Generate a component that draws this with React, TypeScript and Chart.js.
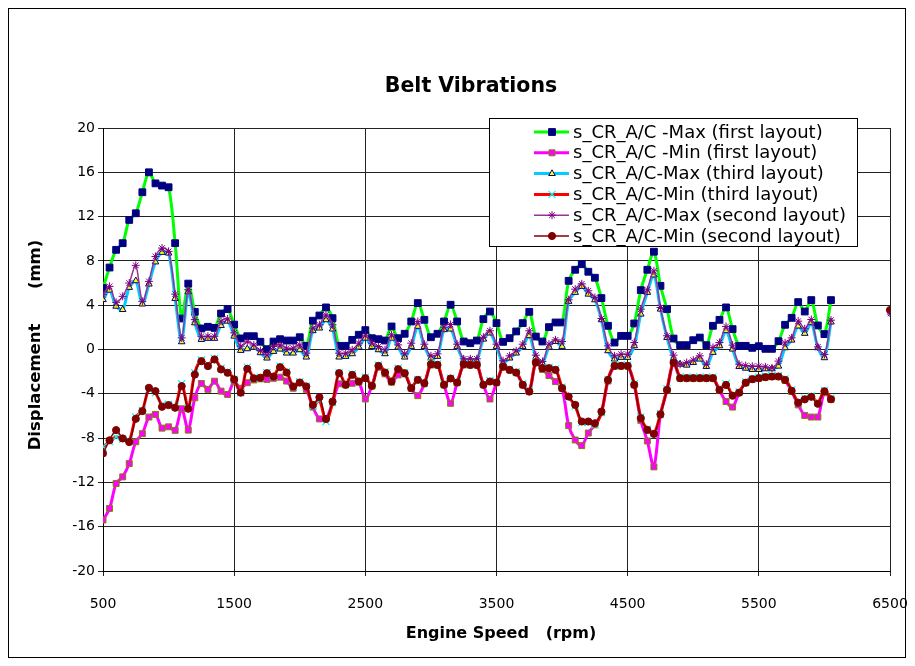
import React, { useEffect, useRef } from "react";
import { Chart, registerables } from "chart.js";

Chart.register(...registerables);

const rpm = [
  500, 550, 600, 650, 700, 750, 800, 850, 900, 950, 1000, 1050, 1100, 1150, 1200, 1250, 1300, 1350, 1400, 1450,
  1500, 1550, 1600, 1650, 1700, 1750, 1800, 1850, 1900, 1950, 2000, 2050, 2100, 2150, 2200, 2250, 2300, 2350, 2400, 2450,
  2500, 2550, 2600, 2650, 2700, 2750, 2800, 2850, 2900, 2950, 3000, 3050, 3100, 3150, 3200, 3250, 3300, 3350, 3400, 3450,
  3500, 3550, 3600, 3650, 3700, 3750, 3800, 3850, 3900, 3950, 4000, 4050, 4100, 4150, 4200, 4250, 4300, 4350, 4400, 4450,
  4500, 4550, 4600, 4650, 4700, 4750, 4800, 4850, 4900, 4950, 5000, 5050, 5100, 5150, 5200, 5250, 5300, 5350, 5400, 5450,
  5500, 5550, 5600, 5650, 5700, 5750, 5800, 5850, 5900, 5950, 6000, 6050,
];

const xTickValues = [500, 1500, 2500, 3500, 4500, 5500, 6500];
const yTickValues = [-20, -16, -12, -8, -4, 0, 4, 8, 12, 16, 20];

const seriesNames = [
  "s_CR_A/C -Max (first layout)",
  "s_CR_A/C -Min (first layout)",
  "s_CR_A/C-Max (third layout)",
  "s_CR_A/C-Min (third layout)",
  "s_CR_A/C-Max (second layout)",
  "s_CR_A/C-Min (second layout)",
];

const firstMax = [
  5.55, 7.4, 9.0, 9.6, 11.7, 12.3, 14.2, 16.0, 15.0, 14.8, 14.65, 9.6, 2.8, 5.95, 3.4, 1.9, 2.05, 1.95, 3.25, 3.65, 2.25, 1.0, 1.2, 1.2, 0.7,
  0.03, 0.72, 0.93, 0.81, 0.81, 1.11, 0.33, 2.6, 3.07, 3.8, 2.83, 0.33, 0.33, 0.87, 1.33, 1.75, 1.02, 0.93, 0.81, 2.08, 1.02, 1.42, 2.53, 4.19, 2.68,
  1.11, 1.42, 2.53, 4.04, 2.53, 0.72, 0.57, 0.81, 2.74, 3.43, 2.38, 0.69, 1.02, 1.63, 2.38, 3.4, 1.17, 0.72, 2.02, 2.44, 2.44, 6.2, 7.2, 7.7,
  7.02, 6.48, 4.64, 2.14, 0.63, 1.23, 1.23, 2.35, 5.36, 7.2, 8.83, 5.75, 3.64, 0.99, 0.39, 0.39, 0.84, 1.08, 0.39, 2.14, 2.68, 3.8, 1.84, 0.33, 0.33,
  0.15, 0.3, 0.06, 0.06, 0.75, 2.23, 2.86, 4.28, 3.43, 4.46, 2.17, 1.39, 4.46,
];

const firstMin = [
  -15.4, -14.35, -12.1, -11.5, -10.3, -8.33, -7.6, -6.1, -5.86, -7.1, -6.98, -7.3, -5.35, -7.28, -4.36, -3.07, -3.6, -2.86, -3.76, -4.06, -2.9, -3.5, -3.0, -2.75, -2.65,
  -2.7, -2.6, -2.5, -2.85, -3.5, -3.0, -3.6, -5.2, -6.27, -6.27, -4.8, -3.1, -3.2, -3.05, -2.95, -4.47, -3.3, -1.6, -2.2, -2.95, -2.3, -2.2, -3.5, -4.17, -3.1,
  -1.4, -1.4, -3.2, -4.86, -3.0, -1.4, -1.4, -1.4, -3.2, -4.47, -3.0, -1.6, -1.85, -2.1, -3.2, -3.8, -1.2, -1.8, -2.35, -2.9, -3.5, -6.87, -8.17, -8.68,
  -7.54, -6.8, -5.7, -2.85, -1.5, -1.5, -1.5, -3.2, -6.4, -8.26, -10.6, -5.9, -3.7, -1.2, -2.6, -2.6, -2.6, -2.6, -2.6, -2.6, -3.7, -4.7, -5.2, -3.9, -3.0,
  -2.7, -2.6, -2.5, -2.45, -2.45, -2.8, -3.8, -5.0, -5.95, -6.1, -6.1, -3.9, -4.5,
];

const thirdMax = [
  4.5, 5.35, 3.9, 3.6, 5.6, 6.2, 4.1, 5.9, 7.9, 8.76, 8.7, 4.6, 0.69, 5.2, 2.4, 0.9, 1.0, 1.0, 2.16, 2.55, 1.2, -0.09, 0.06, 0.2, -0.3,
  -0.78, -0.18, 0.03, -0.33, -0.33, -0.03, -0.69, 1.69, 1.93, 2.68, 1.84, -0.69, -0.63, -0.39, 0.21, 1.02, 0.27, -0.03, -0.39, 1.02, 0.21, -0.69, 0.27, 2.08, 0.27,
  -0.78, -0.63, 1.78, 1.84, 0.27, -0.99, -0.99, -0.99, 0.93, 1.48, 0.27, -1.23, -0.78, -0.33, 0.27, 1.24, -0.69, -1.23, 0.21, 0.72, 0.27, 4.34, 5.15, 5.69,
  4.99, 4.48, 2.68, -0.12, -0.87, -0.72, -0.72, 0.33, 3.19, 5.15, 6.72, 3.64, 1.08, -0.81, -1.33, -1.42, -1.18, -0.87, -1.54, -0.27, 0.33, 1.69, 0.03, -1.54, -1.7,
  -1.81, -1.81, -1.75, -1.75, -1.51, 0.15, 0.84, 2.11, 1.45, 2.41, 0.15, -0.75, 2.47,
];

const thirdMin = [
  -8.8, -8.3, -7.9, -8.1, -8.2, -6.1, -5.5, -3.6, -3.9, -5.0, -4.95, -5.15, -3.1, -5.25, -2.1, -0.95, -1.4, -0.8, -1.7, -2.0, -2.7, -3.9, -1.6, -2.6, -2.5,
  -2.1, -2.4, -1.5, -2.0, -3.3, -2.9, -3.3, -5.1, -4.6, -6.5, -4.8, -2.1, -3.1, -2.2, -2.8, -2.5, -3.2, -1.4, -2.0, -2.8, -1.7, -2.1, -3.4, -2.7, -3.0,
  -1.2, -1.3, -3.1, -2.6, -2.9, -1.25, -1.3, -1.3, -3.1, -2.8, -2.9, -1.45, -1.75, -2.0, -3.1, -3.7, -1.1, -1.6, -1.6, -1.75, -3.4, -4.3, -5.1, -6.6,
  -6.6, -6.8, -5.7, -2.7, -1.4, -1.4, -1.4, -3.1, -6.1, -7.2, -7.6, -5.8, -3.55, -1.1, -2.5, -2.5, -2.5, -2.5, -2.5, -2.5, -3.55, -3.1, -4.1, -3.8, -2.9,
  -2.6, -2.5, -2.4, -2.35, -2.35, -2.65, -3.65, -4.7, -4.4, -4.2, -4.8, -3.7, -4.4,
];

const secondMax = [
  4.95, 5.7, 4.26, 4.8, 6.0, 7.6, 4.35, 6.15, 8.4, 9.16, 8.86, 5.0, 1.05, 5.4, 2.7, 1.2, 1.2, 1.2, 2.55, 2.76, 1.5, 0.3, 0.69, 0.4, -0.1,
  -0.48, 0.27, 0.42, 0.12, 0.12, 0.42, -0.33, 1.93, 2.23, 3.13, 2.23, -0.33, -0.33, -0.03, 0.57, 1.24, 0.57, 0.27, -0.03, 1.33, 0.42, -0.39, 0.57, 2.53, 0.48,
  -0.57, -0.39, 2.02, 2.26, 0.48, -0.84, -0.84, -0.84, 1.11, 1.69, 0.48, -1.02, -0.57, -0.12, 0.48, 1.69, -0.51, -1.08, 0.48, 0.87, 0.72, 4.49, 5.45, 5.93,
  5.3, 4.69, 2.8, 0.33, -0.57, -0.42, -0.42, 0.63, 3.64, 5.39, 7.1, 3.79, 1.24, -0.51, -1.33, -1.18, -0.96, -0.57, -1.33, 0.18, 0.63, 2.08, 0.39, -1.33, -1.45,
  -1.51, -1.51, -1.57, -1.66, -1.05, 0.6, 1.05, 2.56, 1.87, 2.71, 0.24, -0.45, 2.65,
];

const secondMin = [
  -9.38, -8.2, -7.28, -8.03, -8.36, -6.26, -5.56, -3.46, -3.76, -5.17, -5.02, -5.26, -3.31, -5.35, -2.26, -1.05, -1.5, -0.9, -1.8, -2.1, -2.7, -3.9, -1.74, -2.6, -2.55,
  -2.14, -2.44, -1.6, -2.08, -3.34, -2.98, -3.34, -5.0, -4.31, -6.27, -4.7, -2.14, -3.19, -2.29, -2.89, -2.59, -3.28, -1.48, -2.08, -2.89, -1.78, -2.14, -3.49, -2.74, -3.04,
  -1.33, -1.39, -3.19, -2.62, -2.98, -1.33, -1.39, -1.39, -3.19, -2.89, -2.98, -1.54, -1.84, -2.08, -3.19, -3.8, -1.17, -1.69, -1.69, -1.84, -3.49, -4.25, -5.0, -6.5,
  -6.5, -6.66, -5.6, -2.75, -1.48, -1.48, -1.48, -3.19, -6.2, -7.26, -7.62, -5.85, -3.65, -1.18, -2.59, -2.59, -2.59, -2.59, -2.59, -2.59, -3.65, -3.2, -4.17, -3.9, -3.0,
  -2.68, -2.59, -2.5, -2.44, -2.44, -2.74, -3.73, -4.8, -4.5, -4.27, -4.9, -3.77, -4.49,
];

const extraRpm = [6500];
const secondMaxExtra = [3.2];
const secondMinExtra = [3.56];

const FONT = "'DejaVu Sans', sans-serif";

type Style = {
  line: string;
  lineWidth: number;
  point: string;
  radius: number;
  fill: string;
  stroke: string;
  pw: number;
};

const styles: Style[] = [
  { line: "#00FF00", lineWidth: 3, point: "rect", radius: 4.8, fill: "#000080", stroke: "#000080", pw: 1 },
  { line: "#FF00FF", lineWidth: 3, point: "rect", radius: 4.2, fill: "#FF00FF", stroke: "#808000", pw: 1 },
  { line: "#00CCFF", lineWidth: 3, point: "triangle", radius: 3.8, fill: "#FFFF00", stroke: "#000080", pw: 1 },
  { line: "#FF0000", lineWidth: 3, point: "crossRot", radius: 5, fill: "#00FFFF", stroke: "#00FFFF", pw: 1.2 },
  { line: "#993399", lineWidth: 1.5, point: "star", radius: 4, fill: "#800080", stroke: "#800080", pw: 1 },
  { line: "#800000", lineWidth: 1.5, point: "circle", radius: 3.6, fill: "#800000", stroke: "#800000", pw: 1 },
];

function pts(xs: number[], ys: number[]) {
  return xs.map((x, i) => ({ x, y: ys[i] }));
}

function drawMarker(ctx: CanvasRenderingContext2D, st: Style, x: number, y: number) {
  const r = st.radius;
  ctx.save();
  ctx.fillStyle = st.fill;
  ctx.strokeStyle = st.stroke;
  ctx.lineWidth = st.pw;
  ctx.beginPath();
  if (st.point === "rect") {
    const s = r * Math.SQRT1_2;
    ctx.rect(x - s, y - s, 2 * s, 2 * s);
    ctx.fill();
    ctx.stroke();
  } else if (st.point === "triangle") {
    ctx.moveTo(x, y - r);
    ctx.lineTo(x + r * Math.sin((2 * Math.PI) / 3), y - r * Math.cos((2 * Math.PI) / 3));
    ctx.lineTo(x + r * Math.sin((4 * Math.PI) / 3), y - r * Math.cos((4 * Math.PI) / 3));
    ctx.closePath();
    ctx.fill();
    ctx.stroke();
  } else if (st.point === "crossRot" || st.point === "star") {
    const d = r * Math.SQRT1_2;
    ctx.moveTo(x - d, y - d);
    ctx.lineTo(x + d, y + d);
    ctx.moveTo(x - d, y + d);
    ctx.lineTo(x + d, y - d);
    if (st.point === "star") {
      ctx.moveTo(x, y - r);
      ctx.lineTo(x, y + r);
      ctx.moveTo(x - r, y);
      ctx.lineTo(x + r, y);
    }
    ctx.stroke();
  } else {
    ctx.arc(x, y, r, 0, Math.PI * 2);
    ctx.fill();
    ctx.stroke();
  }
  ctx.restore();
}

const decorPlugin = {
  id: "decor",
  afterDraw(chart: any) {
    const ctx: CanvasRenderingContext2D = chart.ctx;
    ctx.save();
    ctx.fillStyle = "#000";
    ctx.textAlign = "center";
    ctx.textBaseline = "middle";
    ctx.font = `bold 20.5px ${FONT}`;
    ctx.fillText("Belt Vibrations", 462, 78);
    ctx.font = `bold 16px ${FONT}`;
    ctx.fillText("Engine Speed   (rpm)", 492, 625);
    ctx.save();
    ctx.translate(27, 336);
    ctx.rotate(-Math.PI / 2);
    ctx.font = `bold 16.5px ${FONT}`;
    ctx.fillText("Displacement      (mm)", 0, 0);
    ctx.restore();

    // legend box
    const bx = 480.5, by = 109.5, bw = 368, bh = 128;
    ctx.fillStyle = "#fff";
    ctx.fillRect(bx, by, bw, bh);
    ctx.strokeStyle = "#000";
    ctx.lineWidth = 1;
    ctx.strokeRect(bx, by, bw, bh);
    ctx.font = `18px ${FONT}`;
    ctx.textAlign = "left";
    for (let i = 0; i < seriesNames.length; i++) {
      const st = styles[i];
      const y = 123 + i * 20.8;
      ctx.strokeStyle = st.line;
      ctx.lineWidth = st.lineWidth;
      ctx.beginPath();
      ctx.moveTo(525, y);
      ctx.lineTo(560, y);
      ctx.stroke();
      drawMarker(ctx, st, 543, y);
      ctx.fillStyle = "#000";
      ctx.fillText(seriesNames[i], 564, y + 1);
    }
    ctx.restore();
  },
};

export default function App() {
  const ref = useRef<HTMLCanvasElement | null>(null);

  useEffect(() => {
    if (!ref.current) return;
    const all = [firstMax, firstMin, thirdMax, thirdMin, secondMax, secondMin];
    const datasets: any[] = all.map((ys, i) => {
      const st = styles[i];
      return {
        label: seriesNames[i],
        data: pts(rpm, ys),
        borderColor: st.line,
        borderWidth: st.lineWidth,
        backgroundColor: st.fill,
        pointStyle: st.point,
        pointRadius: st.radius,
        pointBackgroundColor: st.fill,
        pointBorderColor: st.stroke,
        pointBorderWidth: st.pw,
        tension: 0.3,
        fill: false,
        order: 6 - i,
      };
    });
    datasets.push({
      label: "extra max",
      data: pts(extraRpm, secondMaxExtra),
      showLine: false,
      pointStyle: "star",
      pointRadius: 3,
      pointBorderColor: "#800080",
      pointBorderWidth: 1,
      order: 0,
    });
    datasets.push({
      label: "extra min",
      data: pts(extraRpm, secondMinExtra),
      showLine: false,
      pointStyle: "circle",
      pointRadius: 3.6,
      pointBackgroundColor: "#800000",
      pointBorderColor: "#800000",
      order: 0,
    });

    const chart = new Chart(ref.current, {
      type: "line",
      data: { datasets },
      options: {
        animation: false,
        responsive: true,
        maintainAspectRatio: false,
        layout: { padding: { top: 119, right: 23, bottom: 0, left: 0 } },
        plugins: {
          legend: { display: false },
          title: { display: false },
          tooltip: { enabled: false },
        },
        events: [],
        scales: {
          x: {
            type: "linear",
            min: 500,
            max: 6500,
            afterBuildTicks: (s: any) => {
              s.ticks = xTickValues.map((v) => ({ value: v }));
            },
            afterFit: (s: any) => {
              s.height = 86;
              s.paddingLeft = 0;
              s.paddingRight = 0;
            },
            grid: { color: "#222", lineWidth: 1, tickLength: 5, drawTicks: true },
            border: { color: "#000", width: 1 },
            ticks: {
              font: { family: FONT, size: 14 },
              color: "#000",
              padding: 20,
              maxRotation: 0,
              autoSkip: false,
              callback: (v: any) => String(v),
            },
          },
          y: {
            type: "linear",
            min: -20,
            max: 20,
            afterBuildTicks: (s: any) => {
              s.ticks = yTickValues.map((v) => ({ value: v }));
            },
            afterFit: (s: any) => {
              s.width = 94;
              s.paddingTop = 0;
              s.paddingBottom = 0;
            },
            grid: { color: "#222", lineWidth: 1, tickLength: 5, drawTicks: true },
            border: { color: "#000", width: 1 },
            ticks: {
              font: { family: FONT, size: 14 },
              color: "#000",
              padding: 3,
              autoSkip: false,
              callback: (v: any) => String(v),
            },
          },
        },
      } as any,
      plugins: [decorPlugin],
    });
    return () => chart.destroy();
  }, []);

  return (
    <div
      style={{
        border: "1px solid #000",
        width: 896,
        height: 648,
        background: "#fff",
        position: "relative",
      }}
    >
      <div style={{ position: "absolute", left: 0, top: 0, width: 904, height: 648 }}>
        <canvas ref={ref} />
      </div>
    </div>
  );
}
